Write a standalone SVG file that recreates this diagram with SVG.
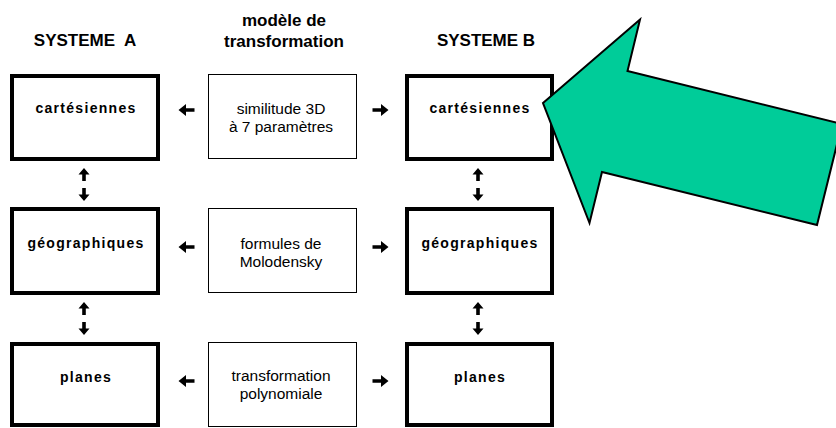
<svg xmlns="http://www.w3.org/2000/svg" xmlns:xlink="http://www.w3.org/1999/xlink" width="836" height="428" viewBox="0 0 836 428">
<style>
.hdr{font-family:"Liberation Sans",Arial,sans-serif;font-size:17px;font-weight:bold;fill:#000;text-anchor:middle;white-space:pre}
.thick{fill:#fff;stroke:#000;stroke-width:4}
.thin{fill:#fff;stroke:#000;stroke-width:1}
.lbl{font-family:"Liberation Sans",Arial,sans-serif;font-size:14px;font-weight:bold;letter-spacing:1.3px;fill:#000;text-anchor:middle}
.mid{font-family:"Liberation Sans",Arial,sans-serif;font-size:15.5px;fill:#000;text-anchor:middle}
.arr{fill:#000}
</style>
<defs>
<path id="hr" d="M-8,-1.8 H0.5 V-6 L8,0 L0.5,6 V1.8 H-8 Z"/>
<path id="vu" d="M0,-6 L5.5,0.5 H1.8 V7 H-1.8 V0.5 H-5.5 Z"/>
</defs>
<rect width="836" height="428" fill="#fff"/>
<g id="headers">
<text class="hdr" x="85" y="46">SYSTEME  A</text>
<text class="hdr" x="284" y="26">modèle de</text>
<text class="hdr" x="284" y="47">transformation</text>
<text class="hdr" x="486" y="46">SYSTEME B</text>
</g>
<g id="a-cart"><rect class="thick" x="12" y="76" width="146" height="83"/><text class="lbl" x="86" y="113">cartésiennes</text></g>
<g id="a-geo"><rect class="thick" x="12" y="209" width="146" height="84"/><text class="lbl" x="86" y="248">géographiques</text></g>
<g id="a-plan"><rect class="thick" x="12" y="344" width="146" height="81"/><text class="lbl" x="86" y="382">planes</text></g>
<g id="m-sim"><rect class="thin" x="208.5" y="74.5" width="148" height="84"/><text class="mid" x="281" y="114">similitude 3D</text><text class="mid" x="281" y="132">à 7 paramètres</text></g>
<g id="m-molo"><rect class="thin" x="208.5" y="208.5" width="148" height="84"/><text class="mid" x="281" y="249">formules de</text><text class="mid" x="281" y="267">Molodensky</text></g>
<g id="m-poly"><rect class="thin" x="208.5" y="342.5" width="148" height="84"/><text class="mid" x="281" y="381">transformation</text><text class="mid" x="281" y="399">polynomiale</text></g>
<g id="b-cart"><rect class="thick" x="407" y="76" width="145" height="83"/><text class="lbl" x="480" y="113">cartésiennes</text></g>
<g id="b-geo"><rect class="thick" x="407" y="209" width="145" height="84"/><text class="lbl" x="480" y="248">géographiques</text></g>
<g id="b-plan"><rect class="thick" x="407" y="344" width="145" height="81"/><text class="lbl" x="480" y="382">planes</text></g>
<g id="connectors" class="arr">
<use xlink:href="#hr" transform="translate(186.5,110) rotate(180)"/>
<use xlink:href="#hr" transform="translate(380.5,110)"/>
<use xlink:href="#hr" transform="translate(186.5,247) rotate(180)"/>
<use xlink:href="#hr" transform="translate(380.5,247)"/>
<use xlink:href="#hr" transform="translate(186.5,381) rotate(180)"/>
<use xlink:href="#hr" transform="translate(380.5,381)"/>
<use xlink:href="#vu" transform="translate(84,174)"/>
<use xlink:href="#vu" transform="translate(84,195) rotate(180)"/>
<use xlink:href="#vu" transform="translate(84,308)"/>
<use xlink:href="#vu" transform="translate(84,329) rotate(180)"/>
<use xlink:href="#vu" transform="translate(478,174)"/>
<use xlink:href="#vu" transform="translate(478,195) rotate(180)"/>
<use xlink:href="#vu" transform="translate(478,308)"/>
<use xlink:href="#vu" transform="translate(478,329) rotate(180)"/>
</g>
<g id="green-arrow">
<polygon points="543,103 640,19.5 627.5,71 842,124 817,225 602,172 589.5,223" fill="#00CC99" stroke="#000" stroke-width="2" stroke-linejoin="miter"/>
</g>
</svg>
